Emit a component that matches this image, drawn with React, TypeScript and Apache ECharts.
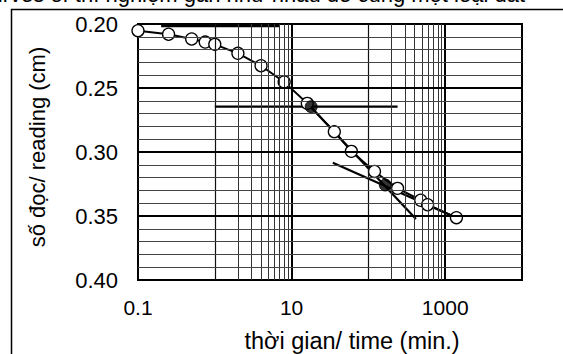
import React, { useEffect, useRef } from 'react';
import * as echarts from 'echarts';

// Consolidation test readings (time in min., dial reading in cm)
const times = [0.1, 0.25, 0.5, 0.75, 1, 2, 4, 8, 16, 36, 60, 120, 240, 480, 590, 1400];
const readings = [0.2052, 0.208, 0.2117, 0.2141, 0.2159, 0.2229, 0.2326, 0.2453, 0.262, 0.2841, 0.2995, 0.3152, 0.3284, 0.3377, 0.3412, 0.3513];

// Key points (filled)
const keyTimes = [18, 166];
const keyReadings = [0.2646, 0.3258];

// Construction lines
const d50T = [1, 240];
const d50R = [0.2646, 0.2646];
const d0T = [0.2, 7];
const d0R = [0.2016, 0.2016];
const steepT = [16, 416];
const steepR = [0.262, 0.3523];
const secT = [34.4, 1400];
const secR = [0.3084, 0.3513];

// Grid values
const xHeavyGrid = [10, 1000];
const xMajorGrid = [1, 100];
const xMinorGrid = [2, 3, 4, 5, 6, 7, 8, 9, 200, 300, 400, 500, 600, 700, 800, 900];
const yMajorGrid = [0.25, 0.3, 0.35];
const yMinorGrid = [0.21, 0.22, 0.23, 0.24, 0.26, 0.27, 0.28, 0.29, 0.31, 0.32, 0.33, 0.34, 0.36, 0.37, 0.38, 0.39];

// Tick labels
const xTickValues = [0.1, 10, 1000];
const xTickLabels = ['0.1', '10', '1000'];

const titleText = 'curves of thí nghiệm gần như nhau để cùng một loại đất';
const xTitle = 'thời gian/ time (min.)';
const yTitle = 'số đọc/ reading (cm)';

const FONT = 'Liberation Sans, Arial, sans-serif';

export default function App() {
  const ref = useRef<HTMLDivElement>(null);

  useEffect(() => {
    if (!ref.current) return;
    const chart = echarts.init(ref.current, undefined, { renderer: 'svg' });

    const pairs = (t: number[], r: number[]) => t.map((v, i) => [v, r[i]]);

    const gridMarks: any[] = [];
    xMinorGrid.forEach((v) => gridMarks.push({ xAxis: v, lineStyle: { color: '#333', width: 1, type: 'solid' } }));
    xMajorGrid.forEach((v) => gridMarks.push({ xAxis: v, lineStyle: { color: '#111', width: 1.2, type: 'solid' } }));
    xHeavyGrid.forEach((v) => gridMarks.push({ xAxis: v, lineStyle: { color: '#000', width: 2, type: 'solid' } }));
    yMinorGrid.forEach((v) => gridMarks.push({ yAxis: v, lineStyle: { color: '#444', width: 1, type: 'solid' } }));
    yMajorGrid.forEach((v) => gridMarks.push({ yAxis: v, lineStyle: { color: '#000', width: 2, type: 'solid' } }));

    const segStyle = { color: '#000', width: 2.2 };
    const segment = (t: number[], r: number[]) => ({
      type: 'line',
      data: pairs(t, r),
      symbol: 'none',
      lineStyle: segStyle,
      silent: true,
      z: 3,
    });

    chart.setOption({
      animation: false,
      grid: {
        left: 138,
        right: 41,
        top: 24,
        bottom: 74,
        show: true,
        borderColor: '#000',
        borderWidth: 2,
        backgroundColor: '#fff',
      },
      xAxis: {
        type: 'log',
        logBase: 10,
        min: 0.1,
        max: 10000,
        splitNumber: 5,
        axisLine: { show: false },
        axisTick: { show: false },
        splitLine: { show: false },
        minorTick: { show: false },
        minorSplitLine: { show: false },
        axisLabel: {
          fontFamily: FONT,
          fontSize: 21,
          color: '#000',
          margin: 17,
          formatter: (v: number) => {
            const idx = xTickValues.findIndex((tv) => Math.abs(Math.log10(v) - Math.log10(tv)) < 1e-6);
            return idx >= 0 ? xTickLabels[idx] : '';
          },
        },
      },
      yAxis: {
        type: 'value',
        inverse: true,
        min: 0.2,
        max: 0.4,
        interval: 0.05,
        axisLine: { show: false },
        axisTick: { show: false },
        splitLine: { show: false },
        axisLabel: {
          fontFamily: FONT,
          fontSize: 22,
          color: '#000',
          margin: 20,
          formatter: (v: number) => v.toFixed(2),
        },
      },
      graphic: [
        {
          type: 'rect',
          shape: { x: 11.5, y: 9.5, width: 700, height: 500 },
          style: { fill: 'none', stroke: '#000', lineWidth: 1.5 },
          silent: true,
          z: -10,
        },
        {
          type: 'text',
          x: 525,
          y: -6,
          style: {
            text: titleText,
            fontFamily: FONT,
            fontSize: 22,
            fill: '#000',
            align: 'right',
            verticalAlign: 'middle',
          },
        },
        {
          type: 'text',
          x: 352,
          y: 341,
          style: {
            text: xTitle,
            fontFamily: FONT,
            fontSize: 23.5,
            fill: '#000',
            align: 'center',
            verticalAlign: 'middle',
          },
        },
        {
          type: 'text',
          x: 37,
          y: 147,
          rotation: Math.PI / 2,
          style: {
            text: yTitle,
            fontFamily: FONT,
            fontSize: 22,
            fill: '#000',
            align: 'center',
            verticalAlign: 'middle',
          },
        },
      ],
      series: [
        {
          type: 'line',
          data: [[1, 0.3]],
          symbol: 'none',
          showSymbol: false,
          lineStyle: { width: 0 },
          silent: true,
          z: 1,
          markLine: {
            silent: true,
            symbol: ['none', 'none'],
            label: { show: false },
            emphasis: { disabled: true },
            data: gridMarks,
          },
        },
        segment(d0T, d0R),
        segment(d50T, d50R),
        segment(steepT, steepR),
        segment(secT, secR),
        {
          type: 'line',
          data: pairs(times, readings),
          symbol: 'circle',
          symbolSize: 12,
          showSymbol: true,
          lineStyle: { color: '#000', width: 2 },
          itemStyle: { color: '#fff', borderColor: '#000', borderWidth: 1.3 },
          silent: true,
          z: 4,
        },
        {
          type: 'scatter',
          data: pairs(keyTimes, keyReadings),
          symbol: 'circle',
          symbolSize: 12,
          itemStyle: { color: '#000', borderColor: '#000', borderWidth: 1 },
          silent: true,
          z: 5,
        },
      ],
    });

    return () => chart.dispose();
  }, []);

  return (
    <div
      ref={ref}
      style={{ position: 'fixed', left: 0, top: 0, width: 563, height: 354, background: '#fff' }}
    />
  );
}
